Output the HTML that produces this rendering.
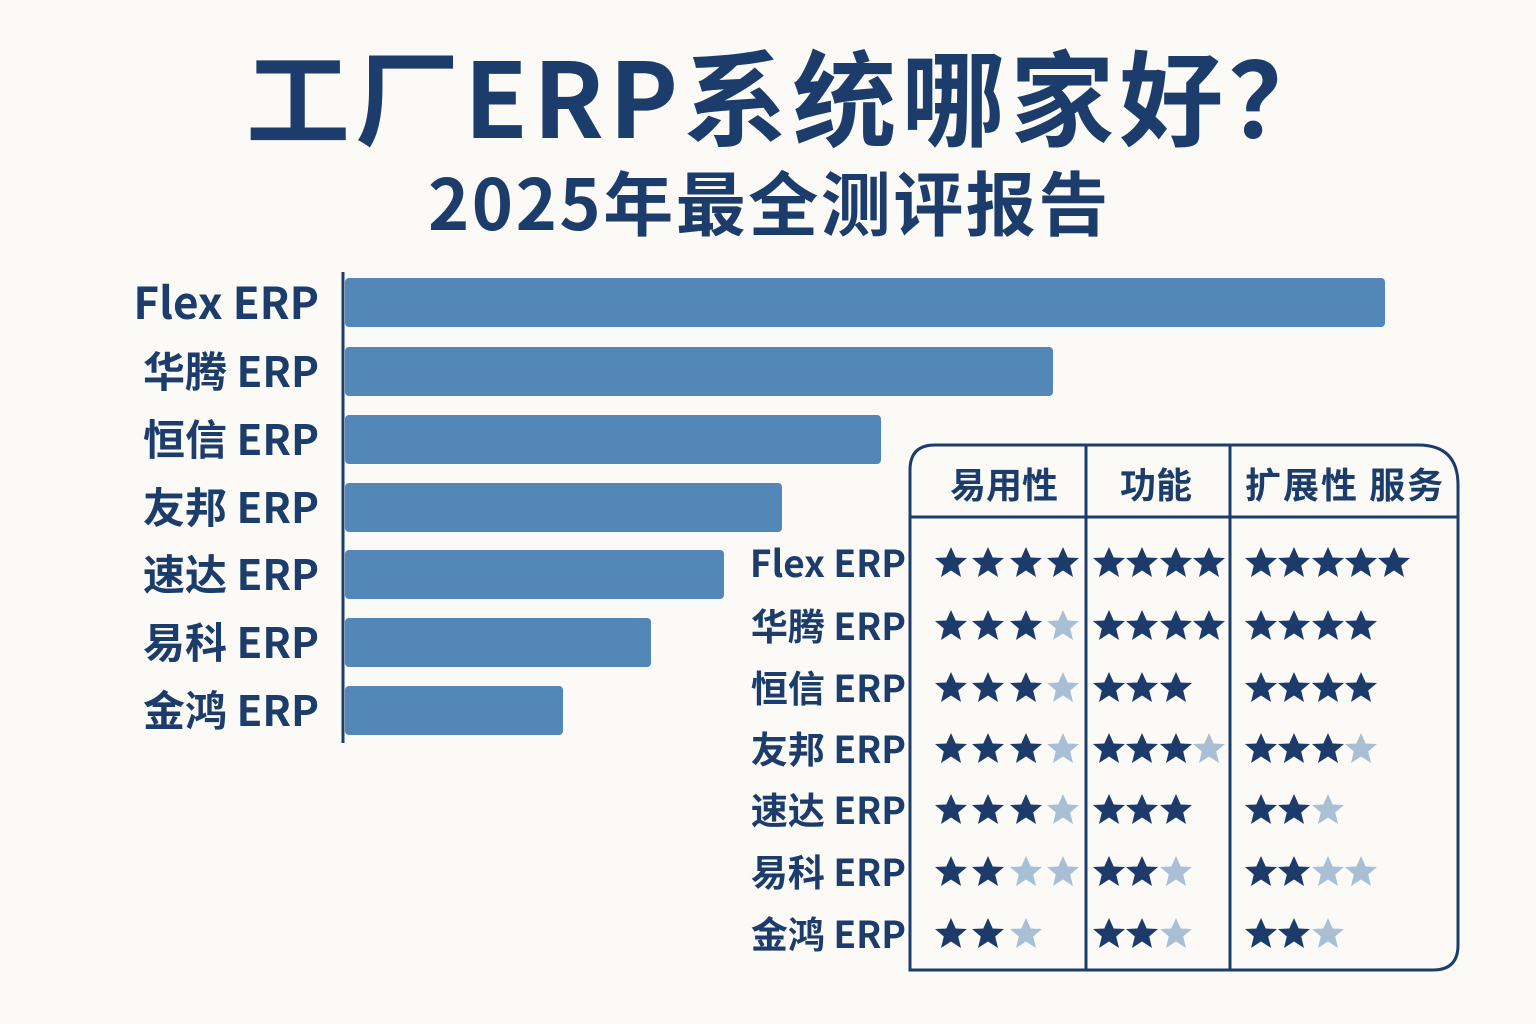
<!DOCTYPE html>
<html><head><meta charset="utf-8"><style>
html,body{margin:0;padding:0;background:#fbfaf7;}
svg{display:block;}
text{font-family:"Noto Sans CJK SC","Liberation Sans",sans-serif;font-weight:bold;fill:#1c3d6b;}
.d{fill:#1c3a6a}.l{fill:#a9bfd6}
</style></head><body>
<svg width="1536" height="1024" viewBox="0 0 1536 1024" xmlns="http://www.w3.org/2000/svg" xmlns:xlink="http://www.w3.org/1999/xlink">
<defs>
<polygon id="st" points="0,-16 4.7,-5.5 16,-5 7.2,2.5 10,14 0,7.5 -10,14 -7.2,2.5 -16,-5 -4.7,-5.5"/>
</defs>
<rect width="1536" height="1024" fill="#fbfaf7"/>
<text x="246" y="138" font-size="104" letter-spacing="5">工厂ERP系统哪家好？</text>
<text x="428" y="230" font-size="70" letter-spacing="2.5">2025年最全测评报告</text>
<line x1="343" y1="272" x2="343" y2="743" stroke="#1c3d6b" stroke-width="3"/>
<g fill="#5287b7">
<rect x="345" y="278" width="1040" height="49" rx="4"/>
<rect x="345" y="347" width="708" height="49" rx="4"/>
<rect x="345" y="415" width="536" height="49" rx="4"/>
<rect x="345" y="483" width="437" height="49" rx="4"/>
<rect x="345" y="550" width="379" height="49" rx="4"/>
<rect x="345" y="618" width="306" height="49" rx="4"/>
<rect x="345" y="686" width="218" height="49" rx="4"/>
</g>
<g font-size="42" text-anchor="end">
<text x="319" y="319" font-size="44">Flex ERP</text>
<text x="319" y="387">华腾 ERP</text>
<text x="319" y="455">恒信 ERP</text>
<text x="319" y="523">友邦 ERP</text>
<text x="319" y="590">速达 ERP</text>
<text x="319" y="658">易科 ERP</text>
<text x="319" y="726">金鸿 ERP</text>
</g>
<path d="M910,970 L910,470 Q910,445 935,445 L1418,445 Q1458,445 1458,485 L1458,945 Q1458,970 1433,970 Z" fill="none" stroke="#1c3d6b" stroke-width="3"/>
<line x1="910" y1="517" x2="1458" y2="517" stroke="#1c3d6b" stroke-width="3"/>
<line x1="1086" y1="445" x2="1086" y2="970" stroke="#1c3d6b" stroke-width="3"/>
<line x1="1230" y1="445" x2="1230" y2="970" stroke="#1c3d6b" stroke-width="3"/>
<text x="950" y="498" font-size="36">易用性</text>
<text x="1120" y="498" font-size="36">功能</text>
<text x="1245" y="498" font-size="36" letter-spacing="2">扩展性 服务</text>
<g text-anchor="end" font-size="37">
<text x="906" y="577">Flex ERP</text>
<text x="906" y="640">华腾 ERP</text>
<text x="906" y="702">恒信 ERP</text>
<text x="906" y="763">友邦 ERP</text>
<text x="906" y="824">速达 ERP</text>
<text x="906" y="886">易科 ERP</text>
<text x="906" y="948">金鸿 ERP</text>
</g>
<use xlink:href="#st" class="d" x="951" y="563"/><use xlink:href="#st" class="d" x="988" y="563"/><use xlink:href="#st" class="d" x="1026" y="563"/><use xlink:href="#st" class="d" x="1063" y="563"/>
<use xlink:href="#st" class="d" x="1109" y="563"/><use xlink:href="#st" class="d" x="1142" y="563"/><use xlink:href="#st" class="d" x="1176" y="563"/><use xlink:href="#st" class="d" x="1209" y="563"/>
<use xlink:href="#st" class="d" x="1261" y="563"/><use xlink:href="#st" class="d" x="1294" y="563"/><use xlink:href="#st" class="d" x="1328" y="563"/><use xlink:href="#st" class="d" x="1361" y="563"/><use xlink:href="#st" class="d" x="1394" y="563"/>
<use xlink:href="#st" class="d" x="951" y="626"/><use xlink:href="#st" class="d" x="988" y="626"/><use xlink:href="#st" class="d" x="1026" y="626"/><use xlink:href="#st" class="l" x="1063" y="626"/>
<use xlink:href="#st" class="d" x="1109" y="626"/><use xlink:href="#st" class="d" x="1142" y="626"/><use xlink:href="#st" class="d" x="1176" y="626"/><use xlink:href="#st" class="d" x="1209" y="626"/>
<use xlink:href="#st" class="d" x="1261" y="626"/><use xlink:href="#st" class="d" x="1294" y="626"/><use xlink:href="#st" class="d" x="1328" y="626"/><use xlink:href="#st" class="d" x="1361" y="626"/>
<use xlink:href="#st" class="d" x="951" y="688"/><use xlink:href="#st" class="d" x="988" y="688"/><use xlink:href="#st" class="d" x="1026" y="688"/><use xlink:href="#st" class="l" x="1063" y="688"/>
<use xlink:href="#st" class="d" x="1109" y="688"/><use xlink:href="#st" class="d" x="1142" y="688"/><use xlink:href="#st" class="d" x="1176" y="688"/>
<use xlink:href="#st" class="d" x="1261" y="688"/><use xlink:href="#st" class="d" x="1294" y="688"/><use xlink:href="#st" class="d" x="1328" y="688"/><use xlink:href="#st" class="d" x="1361" y="688"/>
<use xlink:href="#st" class="d" x="951" y="749"/><use xlink:href="#st" class="d" x="988" y="749"/><use xlink:href="#st" class="d" x="1026" y="749"/><use xlink:href="#st" class="l" x="1063" y="749"/>
<use xlink:href="#st" class="d" x="1109" y="749"/><use xlink:href="#st" class="d" x="1142" y="749"/><use xlink:href="#st" class="d" x="1176" y="749"/><use xlink:href="#st" class="l" x="1209" y="749"/>
<use xlink:href="#st" class="d" x="1261" y="749"/><use xlink:href="#st" class="d" x="1294" y="749"/><use xlink:href="#st" class="d" x="1328" y="749"/><use xlink:href="#st" class="l" x="1361" y="749"/>
<use xlink:href="#st" class="d" x="951" y="810"/><use xlink:href="#st" class="d" x="988" y="810"/><use xlink:href="#st" class="d" x="1026" y="810"/><use xlink:href="#st" class="l" x="1063" y="810"/>
<use xlink:href="#st" class="d" x="1109" y="810"/><use xlink:href="#st" class="d" x="1142" y="810"/><use xlink:href="#st" class="d" x="1176" y="810"/>
<use xlink:href="#st" class="d" x="1261" y="810"/><use xlink:href="#st" class="d" x="1294" y="810"/><use xlink:href="#st" class="l" x="1328" y="810"/>
<use xlink:href="#st" class="d" x="951" y="872"/><use xlink:href="#st" class="d" x="988" y="872"/><use xlink:href="#st" class="l" x="1026" y="872"/><use xlink:href="#st" class="l" x="1063" y="872"/>
<use xlink:href="#st" class="d" x="1109" y="872"/><use xlink:href="#st" class="d" x="1142" y="872"/><use xlink:href="#st" class="l" x="1176" y="872"/>
<use xlink:href="#st" class="d" x="1261" y="872"/><use xlink:href="#st" class="d" x="1294" y="872"/><use xlink:href="#st" class="l" x="1328" y="872"/><use xlink:href="#st" class="l" x="1361" y="872"/>
<use xlink:href="#st" class="d" x="951" y="934"/><use xlink:href="#st" class="d" x="988" y="934"/><use xlink:href="#st" class="l" x="1026" y="934"/>
<use xlink:href="#st" class="d" x="1109" y="934"/><use xlink:href="#st" class="d" x="1142" y="934"/><use xlink:href="#st" class="l" x="1176" y="934"/>
<use xlink:href="#st" class="d" x="1261" y="934"/><use xlink:href="#st" class="d" x="1294" y="934"/><use xlink:href="#st" class="l" x="1328" y="934"/>
</svg>
</body></html>
